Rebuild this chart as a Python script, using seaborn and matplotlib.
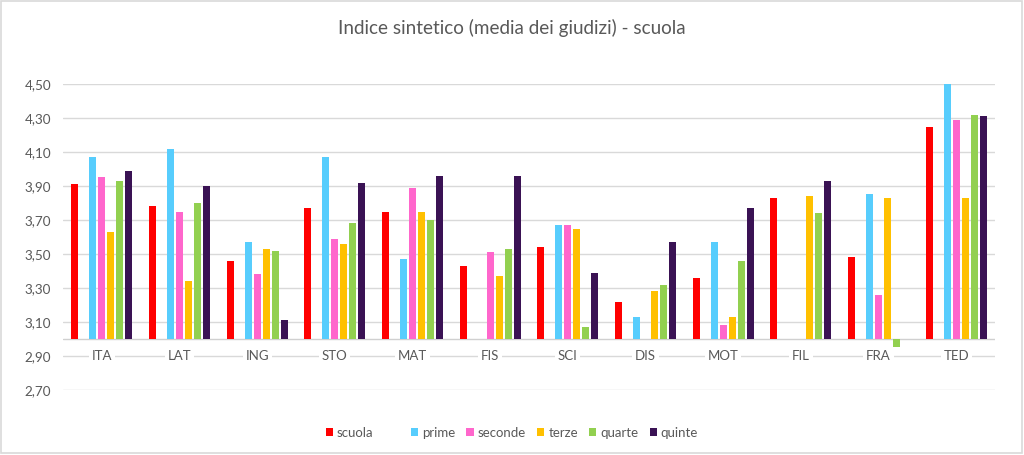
import matplotlib
matplotlib.use('Agg')
import matplotlib.pyplot as plt
import matplotlib.patches as mpatches
import numpy as np
import pandas as pd
import seaborn as sns

# Data
materie = ['ITA', 'LAT', 'ING', 'STO', 'MAT', 'FIS', 'SCI', 'DIS', 'MOT', 'FIL', 'FRA', 'TED']
serie = ['scuola', ' ', 'prime', 'seconde', 'terze', 'quarte', 'quinte']

scuola = [3.91, 3.78, 3.46, 3.77, 3.75, 3.43, 3.54, 3.22, 3.36, 3.83, 3.48, 4.25]
vuota = [np.nan] * 12
prime = [4.07, 4.12, 3.57, 4.07, 3.47, np.nan, 3.67, 3.13, 3.57, np.nan, 3.85, 4.50]
seconde = [3.95, 3.75, 3.38, 3.59, 3.89, 3.51, 3.67, np.nan, 3.08, np.nan, 3.26, 4.29]
terze = [3.63, 3.34, 3.53, 3.56, 3.75, 3.37, 3.65, 3.28, 3.13, 3.84, 3.83, 3.83]
quarte = [3.93, 3.80, 3.52, 3.68, 3.70, 3.53, 3.07, 3.32, 3.46, 3.74, 2.95, 4.32]
quinte = [3.99, 3.90, 3.11, 3.92, 3.96, 3.96, 3.39, 3.57, 3.77, 3.93, np.nan, 4.31]

colori = ['#FF0000', '#FFFFFF', '#57CDFD', '#FF66CC', '#FFC000', '#92D050', '#3A1254']

y_ticks = [2.70, 2.90, 3.10, 3.30, 3.50, 3.70, 3.90, 4.10, 4.30, 4.50]
base = 3.0  # the horizontal axis crosses here

valori = [scuola, vuota, prime, seconde, terze, quarte, quinte]
righe = []
for nome, vals in zip(serie, valori):
    for m, v in zip(materie, vals):
        righe.append({'materia': m, 'serie': nome, 'delta': v - base})
df = pd.DataFrame(righe)

sns.set_theme(style='white')
plt.rcParams['font.family'] = ['Lato', 'DejaVu Sans']
grigio = '#595959'

fig = plt.figure(figsize=(10.24, 4.55), dpi=100)
ax = fig.add_axes([63 / 1024, 1 - 390 / 455, 932 / 1024, 306 / 455])

sns.barplot(
    data=df, x='materia', y='delta', hue='serie',
    order=materie, hue_order=serie, palette=dict(zip(serie, colori)),
    errorbar=None, width=0.81, gap=0.22, bottom=base, saturation=1,
    legend=False, ax=ax, zorder=3, linewidth=0,
)

ax.set_ylim(2.70, 4.50)
ax.set_xlim(-0.5, len(materie) - 0.5)
ax.set_yticks(y_ticks)
ax.set_yticklabels([f'{t:.2f}'.replace('.', ',') for t in y_ticks], color=grigio, fontsize=9.7)
ax.yaxis.grid(True, color='#D9D9D9', linewidth=1.0, zorder=0)
ax.set_axisbelow(True)
ax.axhline(base, color='#D0D0D0', linewidth=1.0, zorder=2)
ax.tick_params(axis='both', length=0, pad=8.5)
ax.set_xticks([])
ax.set_xlabel('')
ax.set_ylabel('')
for s in ax.spines.values():
    s.set_visible(False)

# category labels sit on the 2,90 gridline
for i, m in enumerate(materie):
    ax.text(i, 2.90, m, ha='center', va='center', color=grigio, fontsize=9.5,
            bbox=dict(facecolor='white', edgecolor='none', pad=2), zorder=4)

fig.suptitle('Indice sintetico (media dei giudizi) - scuola', y=1 - 28 / 455,
             va='center', fontsize=13.6, color=grigio)

handles = []
for nome, c in zip(serie, colori):
    if nome.strip():
        handles.append(mpatches.Patch(facecolor=c, edgecolor='none', label=nome))
    else:
        handles.append(mpatches.Patch(facecolor='none', edgecolor='none', label=nome))
leg = fig.legend(handles=handles, loc='center', bbox_to_anchor=(0.5, 1 - 433 / 455),
                 ncol=7, frameon=False, fontsize=9.5, handlelength=0.55, handleheight=0.55,
                 handletextpad=0.3, columnspacing=0.85)
for t in leg.get_texts():
    t.set_color(grigio)

fig.patches.append(mpatches.Rectangle((0.001, 0.004), 0.997, 0.994, transform=fig.transFigure,
                                      fill=False, edgecolor='#D9D9D9', linewidth=1.2))

fig.savefig('out.png', dpi=100, facecolor='white')
